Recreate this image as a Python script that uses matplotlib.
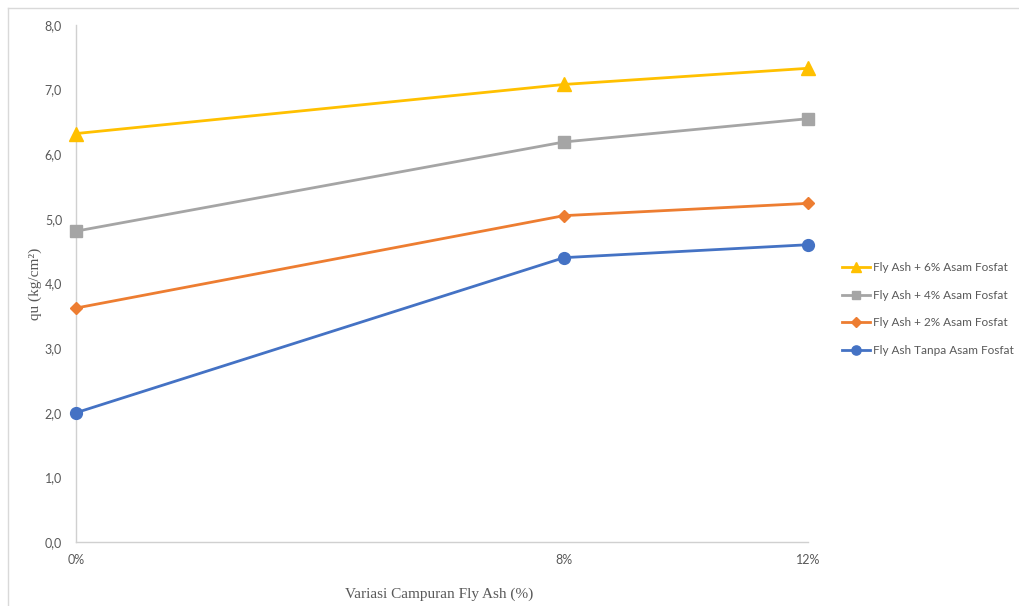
import matplotlib
matplotlib.use("Agg")
import matplotlib.pyplot as plt
from matplotlib.lines import Line2D

# Fly ash content (%) and unconfined compressive strength qu (kg/cm²)
fly_ash = [0, 8, 12]
x_labels = ["0%", "8%", "12%"]
qu_6 = [6.32, 7.08, 7.33]
qu_4 = [4.81, 6.19, 6.55]
qu_2 = [3.62, 5.05, 5.24]
qu_0 = [2.00, 4.40, 4.60]

series = [
    ("Fly Ash + 6% Asam Fosfat", qu_6, "#FFC000", "^", 9.5),
    ("Fly Ash + 4% Asam Fosfat", qu_4, "#A5A5A5", "s", 8),
    ("Fly Ash + 2% Asam Fosfat", qu_2, "#ED7D31", "D", 6),
    ("Fly Ash Tanpa Asam Fosfat", qu_0, "#4472C4", "o", 8.5),
]

tick_color = "#595959"
fig = plt.figure(figsize=(10.2, 6.06), dpi=100)
ax = fig.add_axes([76 / 1020, 64 / 606, 732 / 1020, 517 / 606])

for label, vals, color, marker, ms in series:
    ax.plot(fly_ash, vals, color=color, lw=2, marker=marker, markersize=ms,
            label=label, clip_on=False, zorder=3)

ax.set_xlim(0, 12)
ax.set_ylim(0, 8)
ax.set_xticks(fly_ash)
ax.set_xticklabels(x_labels)
ax.set_yticks(range(0, 9))
ax.set_yticklabels([f"{v:.1f}".replace(".", ",") for v in range(0, 9)])

for side in ("top", "right"):
    ax.spines[side].set_visible(False)
for side in ("left", "bottom"):
    ax.spines[side].set_color("#D0D0D0")
    ax.spines[side].set_linewidth(1)

ax.tick_params(axis="both", length=0, colors=tick_color, labelsize=9)
ax.tick_params(axis="y", pad=10)
ax.tick_params(axis="x", pad=9)
for t in ax.get_xticklabels() + ax.get_yticklabels():
    t.set_fontfamily("Lato")

ax.set_ylabel("qu (kg/cm²)", family="Liberation Serif", fontsize=11,
              color=tick_color)
ax.yaxis.set_label_coords(-0.046, 0.5)
ax.set_xlabel("Variasi Campuran Fly Ash (%)", family="Liberation Serif",
              fontsize=11, color=tick_color)
ax.xaxis.set_label_coords(0.496, -0.088)

handles = [Line2D([], [], color=c, lw=2, marker=m, markersize=ms * 0.78)
           for _, _, c, m, ms in series]
labels = [s[0] for s in series]
leg = fig.legend(handles, labels, loc="center left",
                 bbox_to_anchor=(836 / 1020, 1 - 309 / 606),
                 frameon=False, prop={"family": "Lato", "size": 8.5},
                 handlelength=2.4, handletextpad=0.25, labelspacing=1.4,
                 borderpad=0)
for t in leg.get_texts():
    t.set_color(tick_color)

# light frame along top and left of the chart area
fig.add_artist(Line2D([8 / 1020, 1], [1 - 8 / 606, 1 - 8 / 606],
                      transform=fig.transFigure, color="#D9D9D9", lw=1))
fig.add_artist(Line2D([8 / 1020, 8 / 1020], [0, 1 - 8 / 606],
                      transform=fig.transFigure, color="#D9D9D9", lw=1))

fig.savefig("out.png", dpi=100, facecolor="white")
